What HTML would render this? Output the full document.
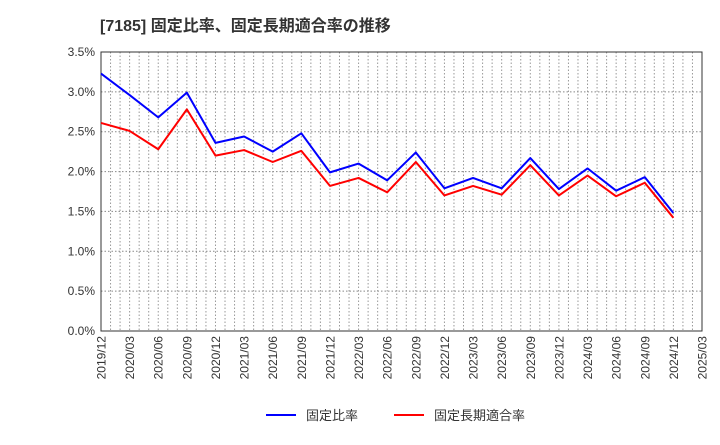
<!DOCTYPE html>
<html><head><meta charset="utf-8"><style>
body{margin:0;background:#fff;}
svg text{font-family:"Liberation Sans","Noto Sans CJK JP",sans-serif;fill:#333;}
</style></head><body>
<svg width="720" height="440" xmlns="http://www.w3.org/2000/svg">
<text x="100" y="31" font-size="16" font-weight="bold">[7185]  固定比率、固定長期適合率の推移</text>
<g id="grid"></g>
<g id="axes"></g>
<g id="series"></g>
<g>
<line x1="266" y1="415" x2="296" y2="415" stroke="#0000ff" stroke-width="2"/>
<text x="306" y="420" font-size="13">固定比率</text>
<line x1="394" y1="415" x2="424" y2="415" stroke="#ff0000" stroke-width="2"/>
<text x="434" y="420" font-size="13">固定長期適合率</text>
</g>
</svg>
<script>
const categories=["2019/12","2020/03","2020/06","2020/09","2020/12","2021/03","2021/06","2021/09","2021/12","2022/03","2022/06","2022/09","2022/12","2023/03","2023/06","2023/09","2023/12","2024/03","2024/06","2024/09","2024/12","2025/03"];
const fixedRatio=[3.23,2.96,2.68,2.99,2.36,2.44,2.25,2.48,1.99,2.10,1.89,2.24,1.79,1.92,1.79,2.17,1.78,2.04,1.76,1.93,1.48];
const longTermRatio=[2.61,2.51,2.28,2.78,2.20,2.27,2.12,2.26,1.82,1.92,1.74,2.12,1.70,1.82,1.71,2.08,1.70,1.95,1.69,1.86,1.42];
const yTicks=[0,0.5,1.0,1.5,2.0,2.5,3.0,3.5];
const L=101,R=702,T=52,B=331,yMax=3.5;
const NS="http://www.w3.org/2000/svg";
const xs=i=>L+(R-L)*i/(categories.length-1);
const ys=v=>B-(B-T)*v/yMax;
function mk(tag,attrs,parent){const e=document.createElementNS(NS,tag);for(const k in attrs)e.setAttribute(k,attrs[k]);parent.appendChild(e);return e;}
const grid=document.getElementById('grid'),axes=document.getElementById('axes'),series=document.getElementById('series');
const months=(categories.length-1)*3;
for(let m=1;m<months;m++){const x=L+(R-L)*m/months;
const l=mk('line',{x1:x,x2:x,y1:T,y2:B,stroke:'#999','stroke-dasharray':'1.5,2','stroke-width':1},grid);

}
yTicks.forEach(v=>{const y=ys(v);
if(v>0&&v<yMax){const l=mk('line',{x1:L,x2:R,y1:y,y2:y,stroke:'#888','stroke-dasharray':'1.5,2','stroke-width':1},grid);

}
const t=mk('text',{x:L-6,y:y+4,'font-size':12,'text-anchor':'end'},axes);t.textContent=v.toFixed(1)+'%';

});
const fr=mk('rect',{x:L,y:T,width:R-L,height:B-T,fill:'none',stroke:'#333','stroke-width':1},axes);


categories.forEach((c,i)=>{const x=xs(i);
const t=mk('text',{x:0,y:0,'font-size':12,'text-anchor':'end',transform:`translate(${x+4.5},${B+5}) rotate(-90)`},axes);t.textContent=c;

});
function line(data,color,name){const p=mk('polyline',{points:data.map((v,i)=>xs(i)+','+ys(v)).join(' '),fill:'none',stroke:color,'stroke-width':2,'stroke-linejoin':'round'},series);

}
line(longTermRatio,'#ff0000','long-term-ratio-line');
line(fixedRatio,'#0000ff','fixed-ratio-line');
</script>
</body></html>
